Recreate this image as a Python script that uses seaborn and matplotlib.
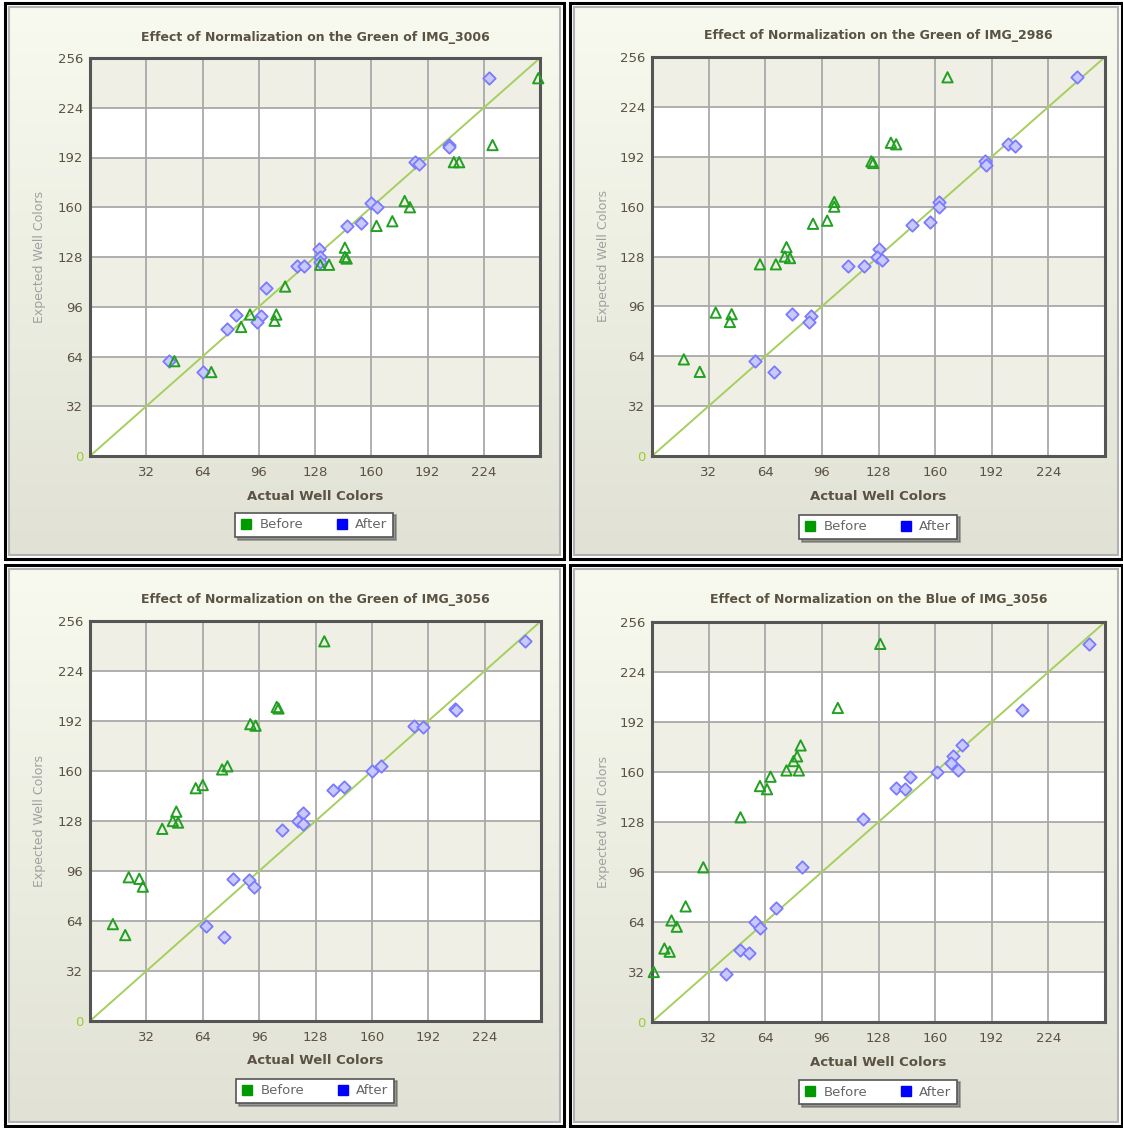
import numpy as np
import pandas as pd
import seaborn as sns
import matplotlib.pyplot as plt
from matplotlib.patches import Rectangle
from matplotlib.lines import Line2D
from matplotlib.colors import LinearSegmentedColormap

W, H = 1123, 1128

### data

titles = ["Effect of Normalization on the Green of IMG_3006",
          "Effect of Normalization on the Green of IMG_2986",
          "Effect of Normalization on the Green of IMG_3056",
          "Effect of Normalization on the Blue of IMG_3056"]

ticks = [0, 32, 64, 96, 128, 160, 192, 224, 256]

# IMG_3006 green
p1_before_x = [255, 229, 207, 210, 179, 182, 172, 163, 145, 145, 146, 131, 136, 111, 91, 106, 105, 86, 48, 69]
p1_before_y = [243, 200, 189, 189, 164, 160, 151, 148, 134, 128, 127, 123, 123, 109, 91, 91, 87, 83, 61, 54]
p1_after_x = [227, 204, 204, 185, 187, 160, 163, 154, 146, 130, 131, 131, 118, 122, 100, 83, 97, 95, 78, 45, 64]
p1_after_y = [243, 200, 199, 189, 188, 163, 160, 150, 148, 133, 128, 125, 122, 122, 108, 91, 90, 86, 82, 61, 54]

# IMG_2986 green
p2_before_x = [167, 135, 138, 124, 125, 103, 103, 99, 91, 76, 75, 78, 61, 70, 36, 45, 44, 18, 27]
p2_before_y = [243, 201, 200, 189, 188, 163, 160, 151, 149, 134, 128, 127, 123, 123, 92, 91, 86, 62, 54]
p2_after_x = [240, 201, 205, 188, 189, 162, 162, 157, 147, 128, 127, 130, 111, 120, 79, 90, 89, 58, 69]
p2_after_y = [243, 200, 199, 189, 187, 163, 160, 150, 148, 133, 128, 126, 122, 122, 91, 90, 86, 61, 54]

# IMG_3056 green
p3_before_x = [133, 106, 107, 91, 94, 75, 78, 60, 64, 49, 47, 50, 41, 22, 28, 30, 13, 20]
p3_before_y = [243, 201, 200, 190, 189, 161, 163, 149, 151, 134, 128, 127, 123, 92, 91, 86, 62, 55]
p3_after_x = [247, 207, 208, 184, 189, 160, 165, 138, 144, 121, 118, 121, 109, 81, 90, 93, 66, 76]
p3_after_y = [243, 200, 199, 189, 188, 160, 163, 148, 150, 133, 128, 126, 122, 91, 90, 86, 61, 54]

# IMG_3056 blue
p4_before_x = [129, 105, 84, 82, 80, 83, 76, 67, 61, 65, 50, 29, 19, 11, 14, 7, 10, 1]
p4_before_y = [242, 201, 177, 170, 167, 161, 161, 157, 151, 149, 131, 99, 74, 65, 61, 47, 45, 32]
p4_after_x = [247, 209, 175, 170, 169, 173, 161, 146, 138, 143, 119, 85, 70, 58, 61, 50, 55, 42]
p4_after_y = [242, 200, 177, 170, 166, 161, 160, 157, 150, 149, 130, 99, 73, 64, 60, 46, 44, 31]

series = [(p1_before_x, p1_before_y, p1_after_x, p1_after_y),
          (p2_before_x, p2_before_y, p2_after_x, p2_after_y),
          (p3_before_x, p3_before_y, p3_after_x, p3_after_y),
          (p4_before_x, p4_before_y, p4_after_x, p4_after_y)]

# pixel layout: outer frame, plot box, title y, xlabel y, ylabel x, legend centre
layout = [
    dict(frame=(5, 3, 564, 559), plot=(90, 58, 540, 456), title_y=37, xlab_y=496, ylab_x=40, leg=(314, 525)),
    dict(frame=(570, 3, 1122, 559), plot=(652, 57, 1105, 456), title_y=35, xlab_y=497, ylab_x=603, leg=(878, 527)),
    dict(frame=(5, 565, 564, 1126), plot=(90, 621, 541, 1021), title_y=599, xlab_y=1061, ylab_x=40, leg=(315, 1091)),
    dict(frame=(570, 565, 1122, 1126), plot=(652, 622, 1105, 1022), title_y=600, xlab_y=1063, ylab_x=603, leg=(878, 1092)),
]

TXT = '#5a5242'
GREEN = '#22a022'
BLUE_EDGE = '#7a7aff'
BLUE_FACE = '#c9c9ff'


def rect(l, t, r, b):
    return [l / W, 1 - b / H, (r - l) / W, (b - t) / H]


sns.set_style("white")
plt.rcParams['font.family'] = ['DejaVu Sans']

fig = plt.figure(figsize=(W / 100, H / 100), dpi=100)
fig.patch.set_facecolor('white')

grad_cmap = LinearSegmentedColormap.from_list('panel', ['#f8faef', '#e1e2d5'])
grad = np.linspace(0, 1, 256).reshape(-1, 1)

for k in range(4):
    lay = layout[k]
    fl, ft, fr, fb = lay['frame']

    # panel background with gradient + grey inner border
    bg = fig.add_axes(rect(fl + 4, ft + 4, fr - 4, fb - 4))
    bg.imshow(grad, aspect='auto', cmap=grad_cmap, extent=[0, 1, 0, 1])
    bg.set_xlim(0, 1)
    bg.set_ylim(0, 1)
    bg.axis('off')
    bg.add_patch(Rectangle((0, 0), 1, 1, transform=bg.transAxes, fill=False,
                           ec='#b2b2b2', lw=1.5, clip_on=False))
    fig.add_artist(Rectangle((fl / W, 1 - fb / H), (fr - fl) / W, (fb - ft) / H,
                             transform=fig.transFigure, fill=False, ec='black', lw=2.2))

    pl, pt, pr, pb = lay['plot']
    ax = fig.add_axes(rect(pl, pt, pr, pb))
    ax.set_xlim(0, 256)
    ax.set_ylim(0, 256)

    # alternating bands
    for i in range(8):
        c = '#efefe6' if i % 2 == 1 else 'white'
        ax.axhspan(ticks[i], ticks[i + 1], color=c, zorder=0, lw=0)
    for t in ticks[1:-1]:
        ax.axvline(t, color='#a9a9a9', lw=1.3, zorder=1)
        ax.axhline(t, color='#a9a9a9', lw=1.3, zorder=1)
    ax.axline((0, 0), slope=1, color='#a6cf5e', lw=1.4, zorder=2)

    bx, by, axx, ayy = series[k]
    before = pd.DataFrame({'actual': bx, 'expected': by})
    after = pd.DataFrame({'actual': axx, 'expected': ayy})
    sns.scatterplot(data=after, x='actual', y='expected', ax=ax, marker='D', s=40,
                    color=BLUE_EDGE, facecolor=BLUE_FACE, edgecolor=BLUE_EDGE,
                    linewidth=1.3, zorder=3, legend=False, clip_on=False)
    sns.scatterplot(data=before, x='actual', y='expected', ax=ax, marker='^', s=55,
                    color=GREEN, facecolor='none', edgecolor=GREEN,
                    linewidth=1.4, zorder=4, legend=False, clip_on=False)

    ax.set_xticks(ticks[1:-1])
    ax.set_yticks(ticks)
    ax.set_xticklabels([str(t) for t in ticks[1:-1]])
    ax.set_yticklabels([str(t) for t in ticks])
    ax.tick_params(length=0, labelsize=9.5, labelcolor=TXT)
    ax.tick_params(axis='x', pad=7)
    ax.tick_params(axis='y', pad=5)
    ax.get_yticklabels()[0].set_color('#9acd32')
    ax.set_xlabel('')
    ax.set_ylabel('')
    for sp in ax.spines.values():
        sp.set_color('#555555')
        sp.set_linewidth(2.2)
        sp.set_visible(True)

    cx = (pl + pr) / 2
    fig.text(cx / W, 1 - lay['title_y'] / H, titles[k], ha='center', va='center',
             fontsize=9, fontweight='bold', color=TXT)
    fig.text(cx / W, 1 - lay['xlab_y'] / H, 'Actual Well Colors', ha='center', va='center',
             fontsize=9.5, fontweight='bold', color=TXT)
    fig.text(lay['ylab_x'] / W, 1 - ((pt + pb) / 2) / H, 'Expected Well Colors', ha='center',
             va='center', rotation=90, fontsize=9, color='#a0a0a0')

    handles = [Line2D([], [], ls='', marker='s', ms=6.5, color='#009900'),
               Line2D([], [], ls='', marker='s', ms=6.5, color='#0000ff')]
    leg = ax.legend(handles, ['Before', 'After'], loc='center',
                    bbox_to_anchor=(lay['leg'][0] / W, 1 - lay['leg'][1] / H),
                    bbox_transform=fig.transFigure, ncol=2, frameon=True, fancybox=False,
                    shadow=True, edgecolor='#555555', fontsize=9.5, labelcolor='#666666',
                    handlelength=0.8, handletextpad=0.6, columnspacing=2.5, borderpad=0.45)
    leg.get_frame().set_linewidth(1.2)
    leg.get_frame().set_facecolor('white')
    leg.get_frame().set_alpha(1)

fig.savefig('out.png', dpi=100)
